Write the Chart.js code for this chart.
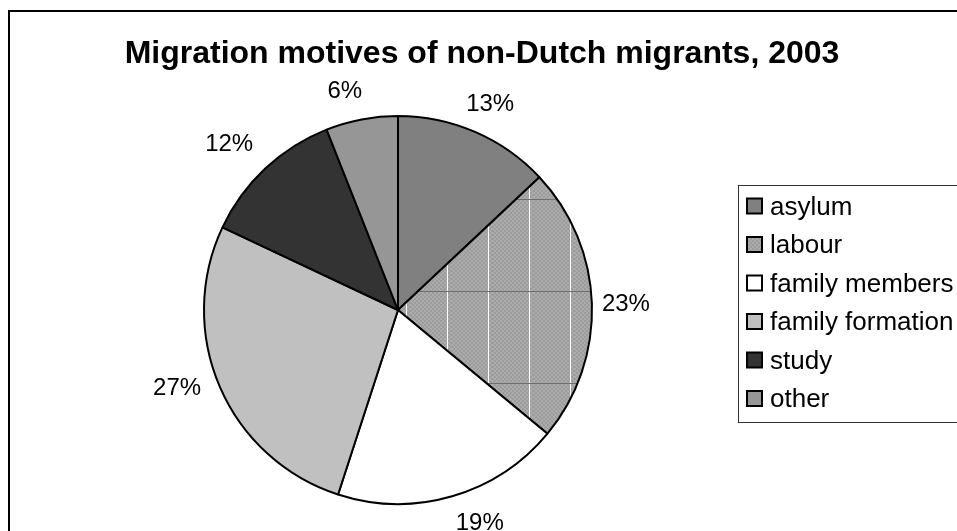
<!DOCTYPE html>
<html>
<head>
<meta charset="utf-8">
<title>Migration motives</title>
<script src="https://cdn.jsdelivr.net/npm/chart.js@4.4.1/dist/chart.umd.min.js"></script>
<style>
  html, body { margin: 0; padding: 0; background: #fff; }
  #wrap { width: 957px; height: 531px; position: relative; }
</style>
</head>
<body>
<div id="wrap"><canvas id="pieChart" width="957" height="531"></canvas></div>
<script>
// ---------------- DATA ----------------
const chartTitle = "Migration motives of non-Dutch migrants, 2003";
const motives = ["asylum", "labour", "family members", "family formation", "study", "other"];
const shares = [13, 23, 19, 27, 12, 6];   // percent

// ---------------- STYLE ----------------
const FONT = '"Liberation Sans", Arial, sans-serif';
const flatColors = ["#808080", null, "#ffffff", "#c0c0c0", "#333333", "#969696"];
// small nudges so the % labels sit where the original put them
const labelNudge = [[0, -6], [-4, 1], [17, 4], [-8, -8], [-10, -7], [-11, -4]];

// checker fill used for "labour" (with the faint grid seen in the original)
function makeChecker(withGrid) {
    const c = document.createElement("canvas");
    c.width = 41; c.height = 92;
    const g = c.getContext("2d");
    for (let y = 0; y < c.height; y += 2) {
        for (let x = 0; x < c.width; x += 2) {
            g.fillStyle = ((x + y) / 2) % 2 ? "#9c9c9c" : "#ababab";
            g.fillRect(x, y, 2, 2);
        }
    }
    if (withGrid) {
        g.fillStyle = "#ffffff";
        g.fillRect(37, 0, 1, c.height);
        g.fillStyle = "#6e6e6e";
        g.fillRect(0, 15, c.width, 1);
    }
    return c;
}

const ctx0 = document.getElementById("pieChart").getContext("2d");
const labourFill = ctx0.createPattern(makeChecker(true), "repeat");
const labourSwatch = ctx0.createPattern(makeChecker(false), "repeat");
const sliceFills = flatColors.map(c => c === null ? labourFill : c);
const swatchFills = flatColors.map(c => c === null ? labourSwatch : c);


// -------------------- PLUGINS --------------------
const framePlugin = {
    id: "frame",
    beforeDraw(chart) {
        const c = chart.ctx;
        c.save();
        c.fillStyle = "#fff";
        c.fillRect(0, 0, chart.width, chart.height);
        c.strokeStyle = "#000";
        c.lineWidth = 2;
        c.strokeRect(9, 11, chart.width + 20, chart.height + 20);
        // title
        c.fillStyle = "#000";
        c.font = "bold 32px " + FONT;
        c.textAlign = "center";
        c.textBaseline = "middle";
        c.fillText(chartTitle, 482, 54);
        c.restore();
    }
};

const pctLabels = {
    id: "pctLabels",
    afterDatasetsDraw(chart) {
        const c = chart.ctx;
        const meta = chart.getDatasetMeta(0);
        c.save();
        c.font = "24px " + FONT;
        c.fillStyle = "#000";
        c.textAlign = "center";
        c.textBaseline = "middle";
        meta.data.forEach((arc, i) => {
            const mid = (arc.startAngle + arc.endAngle) / 2;
            const dx = Math.cos(mid), dy = Math.sin(mid);
            const txt = shares[i] + "%";
            const hw = c.measureText(txt).width / 2;
            const R = arc.outerRadius + 14;
            const x = arc.x + dx * R + dx * hw + labelNudge[i][0];
            const y = arc.y + dy * R + dy * 10 + labelNudge[i][1];
            c.fillText(txt, x, y);
        });
        c.restore();
    }
};

const boxLegend = {
    id: "boxLegend",
    afterDraw(chart) {
        const c = chart.ctx;
        const left = 738, top = 185, bottom = 422;
        const rowH = 38.5, firstRow = 206.5;
        c.save();
        c.strokeStyle = "#333";
        c.lineWidth = 1;
        c.fillStyle = "#fff";
        c.fillRect(left + 0.5, top + 0.5, chart.width, bottom - top);
        c.strokeRect(left + 0.5, top + 0.5, chart.width, bottom - top);
        c.font = "26px " + FONT;
        c.textBaseline = "middle";
        motives.forEach((m, i) => {
            const cy = firstRow + i * rowH;
            c.fillStyle = swatchFills[i];
            c.fillRect(747, cy - 8, 15, 15);
            c.strokeStyle = "#000";
            c.lineWidth = 2;
            c.strokeRect(747, cy - 8, 15, 15);
            c.fillStyle = "#000";
            c.fillText(m, 770, cy + 1);
        });
        c.restore();
    }
};


// -------------------- CHART --------------------
new Chart(document.getElementById("pieChart"), {
    type: "pie",
    data: {
        labels: motives,
        datasets: [{
            data: shares,
            backgroundColor: sliceFills,
            borderColor: "#000",
            borderWidth: 2,
            hoverOffset: 0
        }]
    },
    options: {
        responsive: false,
        animation: false,
        events: [],
        layout: {
            padding: { left: 203, top: 115, right: 364, bottom: 26 }
        },
        plugins: {
            legend: { display: false },
            title: { display: false },
            tooltip: { enabled: false }
        }
    },
    plugins: [framePlugin, pctLabels, boxLegend]
});
</script>
</body>
</html>
